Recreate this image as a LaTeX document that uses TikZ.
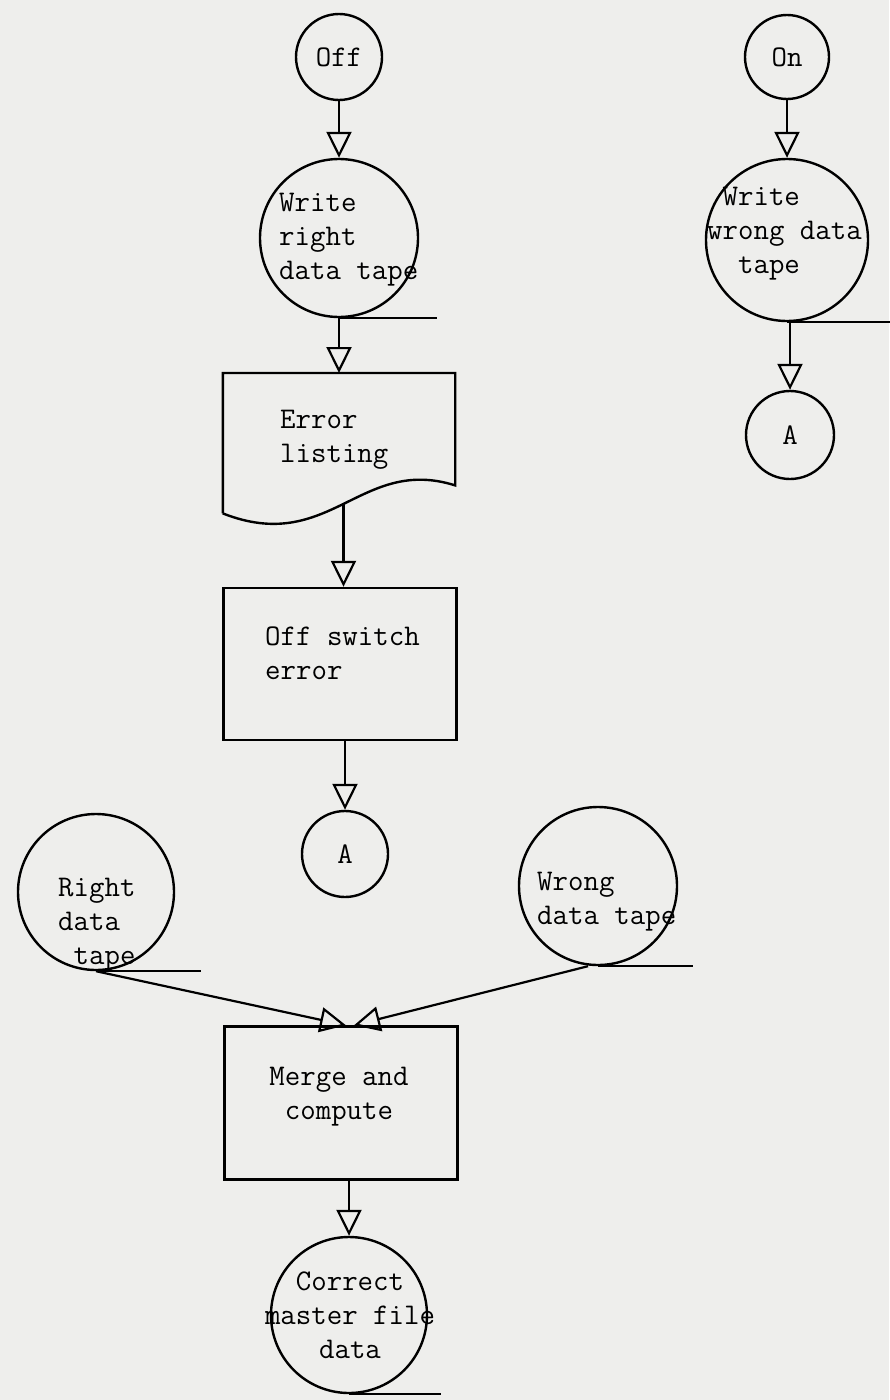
\documentclass[tikz,border=0pt]{standalone}
\usetikzlibrary{arrows.meta}
\definecolor{paper}{RGB}{238,238,236}
\tikzset{
  flownode/.style = {inner sep=0pt, font=\fontsize{30}{34}\selectfont\ttfamily},
  % circle: file / connector, text set separately
  fc_circ/.style = {flownode, circle, draw=black, line width=2.4pt},
  fc_box/.style = {flownode, rectangle, draw=black, line width=2.4pt, minimum width=233pt, minimum height=152pt},
  fc_txt/.style = {flownode, align=left, text=black},
  tape_line/.style = {line width=2.4pt}
}

\begin{document}
\begin{tikzpicture}[x=1pt,y=-1pt,
    >={Triangle[open,length=26pt,width=25pt]},
    flow/.style={->, line width=2.2pt}
    ]
    \useasboundingbox (0,0) rectangle (889,1400);
    \fill[paper] (0,0) rectangle (889,1400);
    % Off branch:
    \node [fc_circ, minimum size=86pt] (off) at (339,57) {Off};
    \node [fc_circ, minimum size=158pt] (wright) at (339,238) {};
    \node [fc_txt, anchor=west] (wrightT) at (279,240) {Write\\right\\data tape};
    \draw [tape_line] (wright.south) -- ++(98,0);
    % Error listing (document):
    \node [flownode, minimum width=232pt, minimum height=140pt, anchor=north] (errl) at (339,373) {};
    \draw [line width=2.4pt] (errl.south west) -- (errl.north west) -- (errl.north east) -- ([yshift=28pt]errl.south east)
        .. controls +(-95,-30) and +(107,42) .. (errl.south west) coordinate[pos=0.5] (errw);
    \node [fc_txt, anchor=west] (errlT) at (280,440) {Error\\listing};
    \node [fc_box] (osw) at (340,664) {};
    \node [fc_txt, anchor=west] (oswT) at (265,653) {Off switch\\error};
    \node [fc_circ, minimum size=86pt] (conA) at (345,854) {A};
    % On branch:
    \node [fc_circ, minimum size=84pt] (on) at (787,57) {On};
    \node [fc_circ, minimum size=162pt] (wwrong) at (787,240) {};
    \node [fc_txt, anchor=west] (wwrongT) at (707,234) {\phantom{w}Write\\wrong data\\\phantom{ww}tape};
    \draw [tape_line] (wwrong.south) -- ++(103,0);
    \node [fc_circ, minimum size=88pt] (conA2) at (790,435) {A};
    % Merge:
    \node [fc_circ, minimum size=156pt] (rtape) at (96,892) {};
    \node [fc_txt, anchor=west] (rtapeT) at (58,925) {Right\\data\\\phantom{d}tape};
    \draw [tape_line] (rtape.south) -- ++(105,0);
    \node [fc_circ, minimum size=158pt] (wtape) at (598,886) {};
    \node [fc_txt, anchor=west] (wtapeT) at (537,902) {Wrong\\data tape};
    \draw [tape_line] (wtape.south) -- ++(95,0);
    \node [fc_box, minimum height=153pt] (merge) at (341,1103) {};
    \node [fc_txt, align=center] (mergeT) at (339,1097) {Merge and\\compute};
    \node [fc_circ, minimum size=156pt] (corr) at (349,1315) {};
    \node [fc_txt, align=center] (corrT) at (350,1315) {Correct\\master file\\data};
    \draw [tape_line] (corr.south) -- ++(92,0);
    % Flow lines:
    \draw [flow] (off) -- (wright);
    \draw [flow] (wright.south) -- (errl.north);
    \draw [flow] (errw) -- (errw |- osw.north);
    \draw [flow] (conA.north |- osw.south) -- (conA.north);
    \draw [flow] (on) -- (wwrong);
    \draw [flow] (wwrong.south -| conA2.north) -- (conA2.north);
    \draw [flow] (rtape.south) -- ([xshift=5pt]merge.north);
    \draw [flow] ([xshift=-10pt]wtape.south) -- ([xshift=13pt]merge.north);
    \draw [flow] (corr.north |- merge.south) -- (corr.north);
\end{tikzpicture}
\end{document}
